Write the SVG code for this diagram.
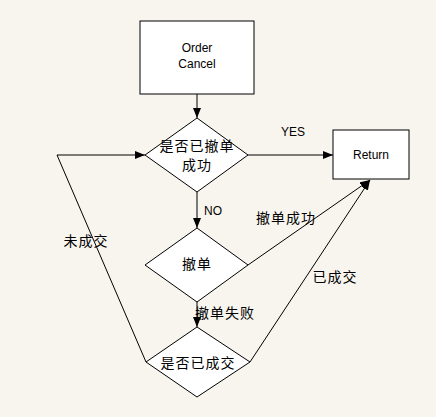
<svg xmlns="http://www.w3.org/2000/svg" width="436" height="417" viewBox="0 0 436 417">
<style>
.s{fill:#fff;stroke:#000;stroke-width:1}
.l{fill:none;stroke:#000;stroke-width:1}
.t{font-family:"Liberation Sans","Noto Sans CJK SC",sans-serif;font-size:12px;fill:#000;text-anchor:middle;dominant-baseline:central}
.c{font-family:"Noto Sans CJK SC",sans-serif;font-size:14px;fill:#000;text-anchor:middle;dominant-baseline:central;letter-spacing:1px}
</style>
<defs>
<marker id="a" markerWidth="10" markerHeight="8" refX="10" refY="4" orient="auto" markerUnits="userSpaceOnUse">
<path d="M0,0 L10,4 L0,8 Z" fill="#000"/>
</marker>
</defs>
<rect width="436" height="417" fill="#f8f5ef"/>
<g id="connectors">
<line class="l" x1="197" y1="94" x2="197" y2="118" marker-end="url(#a)"/>
<line class="l" x1="248" y1="155" x2="333" y2="155" marker-end="url(#a)"/>
<line class="l" x1="197" y1="192" x2="197" y2="228" marker-end="url(#a)"/>
<line class="l" x1="197" y1="302" x2="197" y2="327" marker-end="url(#a)"/>
<line class="l" x1="248" y1="265" x2="370" y2="180" marker-end="url(#a)"/>
<line class="l" x1="250" y1="362" x2="370" y2="180" marker-end="url(#a)"/>
<polyline class="l" points="146,362 57,155 145,155" marker-end="url(#a)"/>
<text class="t" x="293" y="132">YES</text>
<text class="t" x="213" y="211">NO</text>
<text class="c" x="286" y="217">撤单成功</text>
<text class="c" x="335" y="276">已成交</text>
<text class="c" x="225" y="312">撤单失败</text>
<text class="c" x="86" y="240">未成交</text>
</g>
<g id="order-cancel">
<rect class="s" x="140" y="21" width="114" height="73"/>
<text class="t" x="197" y="48">Order</text>
<text class="t" x="197" y="64">Cancel</text>
</g>
<g id="decision-cancel-success">
<polygon class="s" points="197,118 248,155 197,192 145,155"/>
<text class="c" x="197" y="145">是否已撤单</text>
<text class="c" x="197" y="164">成功</text>
</g>
<g id="return">
<rect class="s" x="333" y="130" width="76" height="49"/>
<text class="t" x="371" y="155">Return</text>
</g>
<g id="cancel">
<polygon class="s" points="197,228 248,265 197,302 145,265"/>
<text class="c" x="197" y="263">撤单</text>
</g>
<g id="decision-traded">
<polygon class="s" points="197,327 250,362 197,397 146,362"/>
<text class="c" x="198" y="362">是否已成交</text>
</g>
</svg>
